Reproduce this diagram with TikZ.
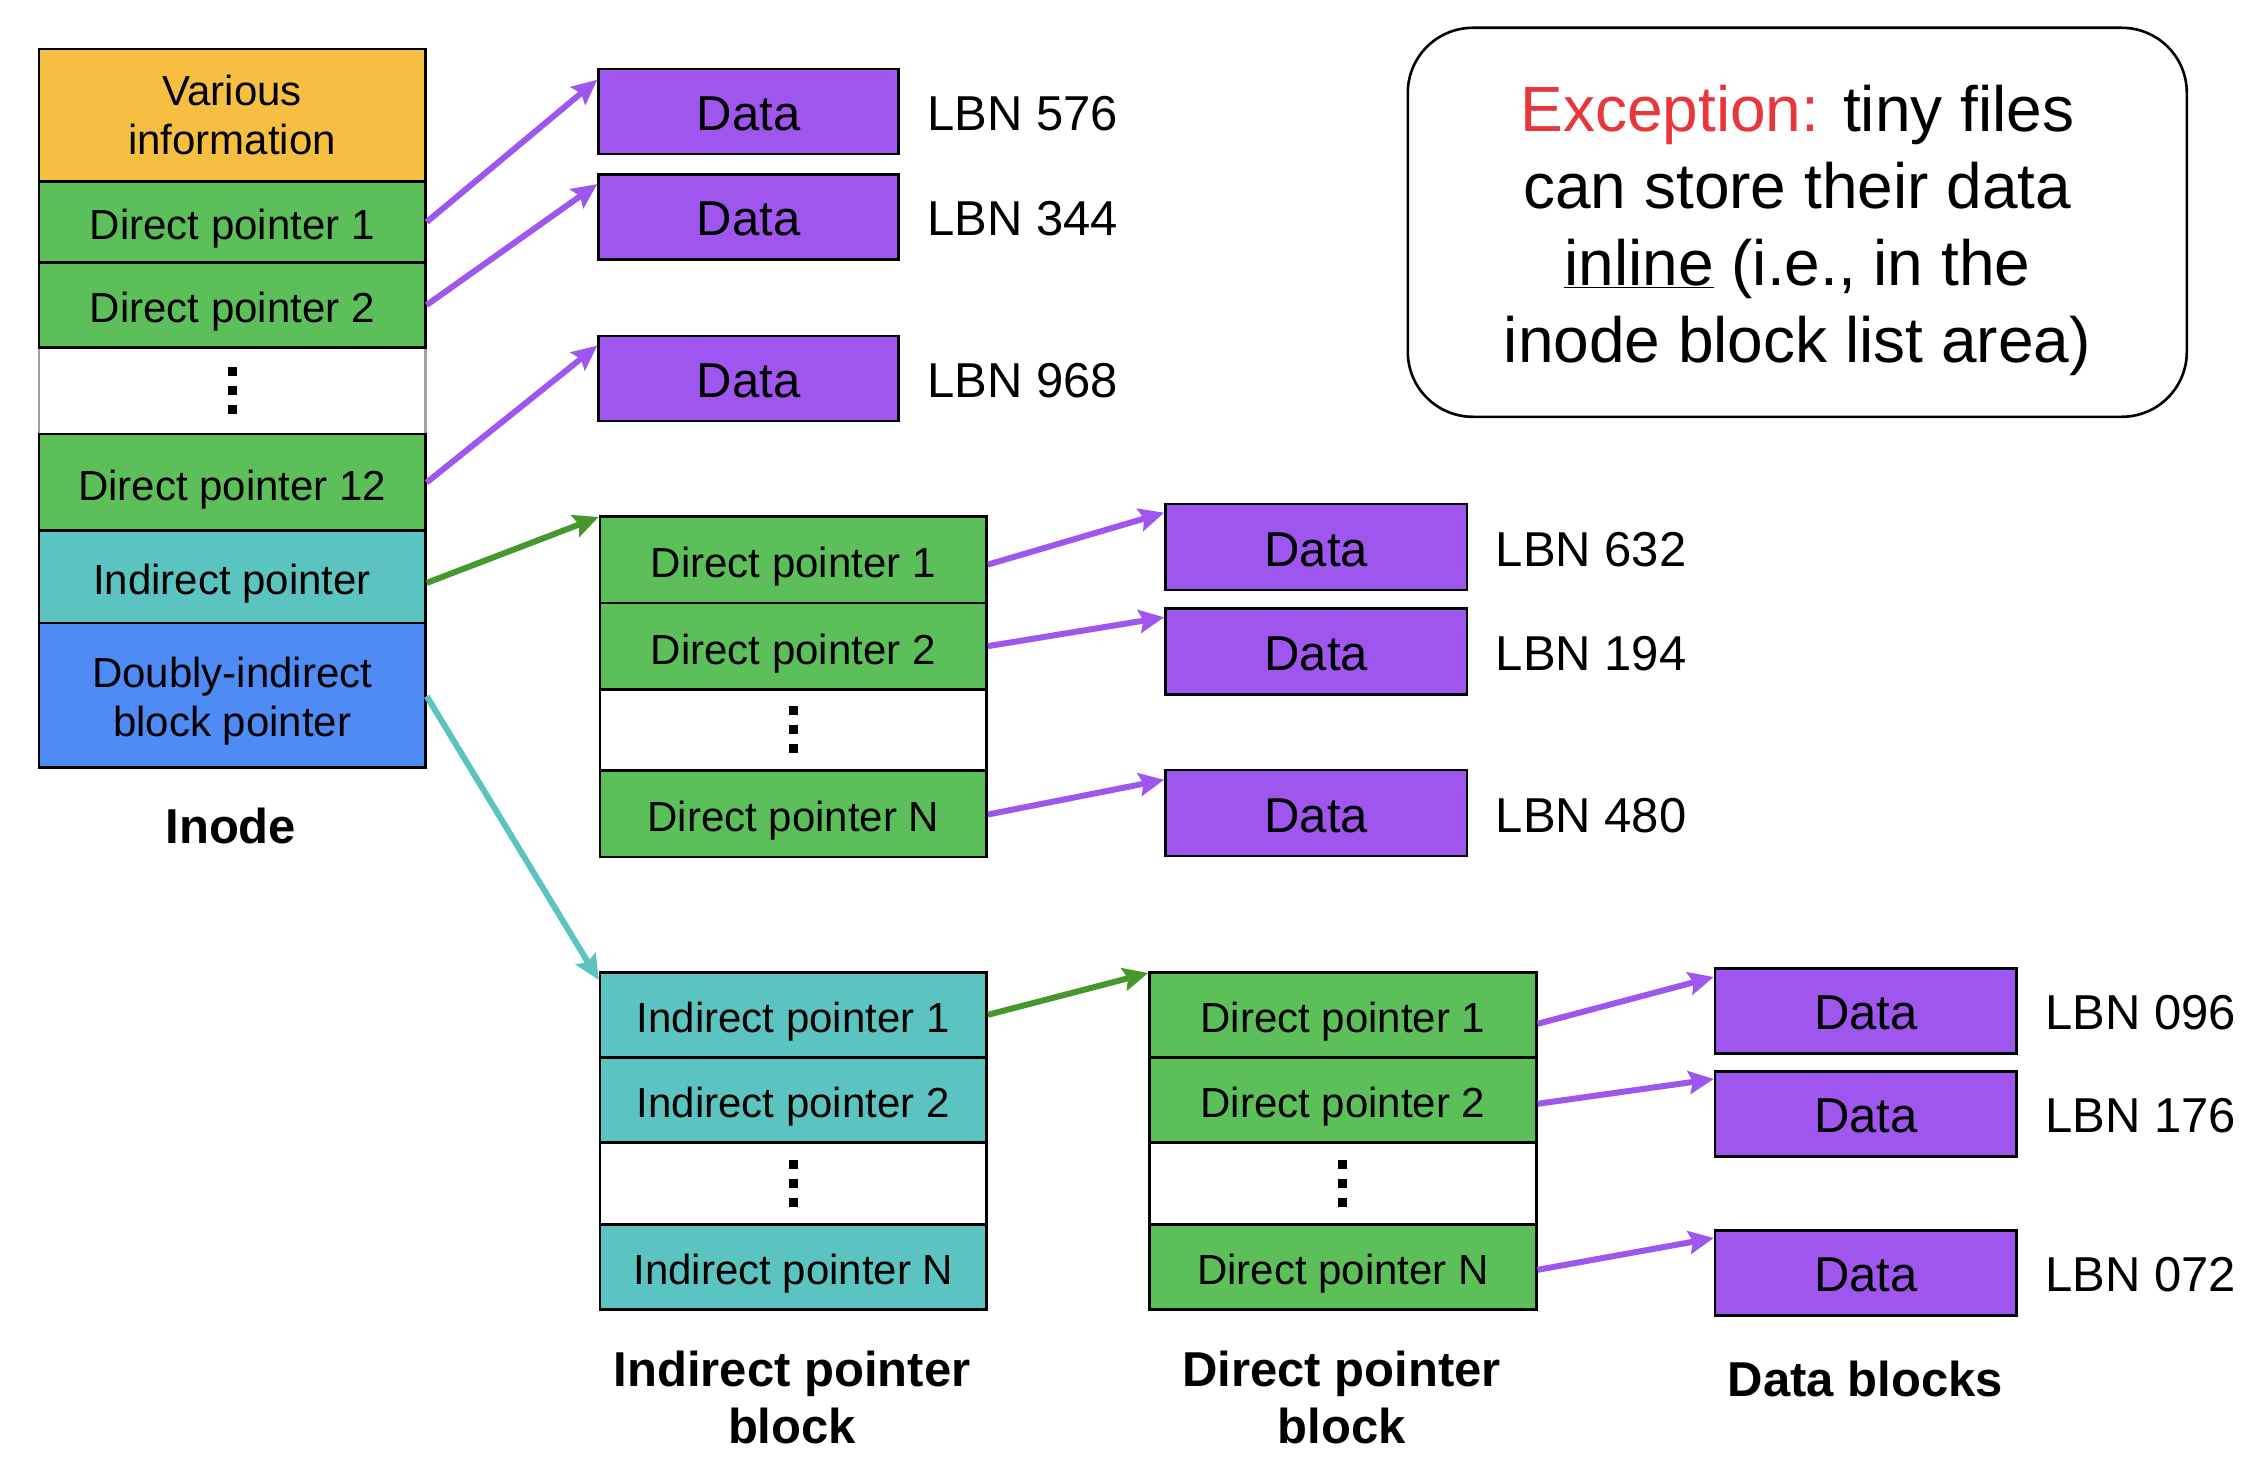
\documentclass[tikz,border=0pt]{standalone}
\usepackage{fontspec}
\setmainfont{Liberation Sans}
\usetikzlibrary{arrows.meta,calc}
\definecolor{cOrange}{HTML}{F6BF41}
\definecolor{cGreen}{HTML}{5CBF5A}
\definecolor{cTeal}{HTML}{5BC4C0}
\definecolor{cBlue}{HTML}{4E8BF5}
\definecolor{cPurple}{HTML}{9E56EE}
\definecolor{cDGreen}{HTML}{45982B}
\definecolor{cRed}{HTML}{E8363B}
\definecolor{cGray}{HTML}{A0A0A0}
\tikzset{
  cell/.style={draw=black, line width=2.6pt, inner sep=0pt, anchor=north west,
    font=\fontsize{42}{49}\selectfont, align=center},
  celltext/.style={inner sep=0pt, font=\fontsize{42}{49}\selectfont, align=center},
  one/.style={text height=36pt, text depth=0pt},
  datab/.style={draw=black, line width=2.6pt, fill=cPurple, inner sep=0pt, anchor=north west,
    font=\fontsize{49}{58}\selectfont, text height=38pt, text depth=0pt},
  lbn/.style={anchor=west, inner sep=0pt, font=\fontsize{49}{58}\selectfont,
    text height=38pt, text depth=0pt},
  caption/.style={inner sep=0pt, align=center, font=\fontsize{49}{57}\selectfont\bfseries},
  arr/.style={line width=6pt, -{Stealth[length=25pt,width=23pt,inset=4pt]}},
  dotsq/.style={fill=black},
}
\begin{document}
\begin{tikzpicture}[x=1pt,y=-1pt]
\useasboundingbox (0,0) rectangle (2262,1474);

% ---------------- Inode ----------------
\node[cell, fill=cOrange, minimum width=386.6pt, minimum height=132.7pt] (vi) at (37.5,47.6) {Various\\information};
\node[cell, fill=cGreen, one, minimum width=386.6pt, minimum height=80.8pt] (idp1) at (37.5,180.3) {Direct pointer 1};
\node[cell, draw=cGray, fill=white, minimum width=386.6pt, minimum height=86.6pt] (idots) at (37.5,346.2) {};
\node[cell, fill=cGreen, one, minimum width=386.6pt, minimum height=85.1pt] (idp2) at (37.5,261.1) {Direct pointer 2};
\node[cell, fill=cGreen, one, minimum width=386.6pt, minimum height=96.6pt] (idp12) at (37.5,432.8) {Direct pointer 12};
\node[cell, fill=cTeal, one, minimum width=386.6pt, minimum height=92.4pt] (iip) at (37.5,529.4) {Indirect pointer};
\node[cell, fill=cBlue, minimum width=386.6pt, minimum height=144.2pt] (idip) at (37.5,621.8) {};
\node[celltext] (idiptext) at ($(idip.center)+(0,6)$) {Doubly-indirect\\block pointer};
\node[caption, anchor=base] (inodelbl) at (230.8,843) {Inode};

% ---------------- Data col 1 ----------------
\node[datab, minimum width=300.1pt, minimum height=85pt] (d1) at (597.2,67.8) {Data};
\node[datab, minimum width=300.1pt, minimum height=85pt] (d2) at (597.2,173.1) {Data};
\node[datab, minimum width=300.1pt, minimum height=85pt] (d3) at (597.2,334.7) {Data};
\node[lbn] (l1) at ($(d1.east)+(27.4,0)$) {LBN 576};
\node[lbn] (l2) at ($(d2.east)+(27.4,0)$) {LBN 344};
\node[lbn] (l3) at ($(d3.east)+(27.4,0)$) {LBN 968};

% ---------------- Direct pointer block (single indirect) ----------------
\node[cell, fill=cGreen, one, minimum width=386.6pt, minimum height=86.6pt] (a1) at (598.7,515) {Direct pointer 1};
\node[cell, fill=cGreen, one, minimum width=386.6pt, minimum height=86.5pt] (a2) at (598.7,601.6) {Direct pointer 2};
\node[cell, fill=white, minimum width=386.6pt, minimum height=80.8pt] (adots) at (598.7,688.1) {};
\node[cell, fill=cGreen, one, minimum width=386.6pt, minimum height=86.6pt] (an) at (598.7,768.9) {Direct pointer N};

% ---------------- Data col 2 ----------------
\node[datab, minimum width=301.5pt, minimum height=86pt] (e1) at (1164.2,502.7) {Data};
\node[datab, minimum width=301.5pt, minimum height=86pt] (e2) at (1164.2,607.3) {Data};
\node[datab, minimum width=301.5pt, minimum height=86pt] (e3) at (1164.2,768.7) {Data};
\node[lbn] (m1) at ($(e1.east)+(27.3,0)$) {LBN 632};
\node[lbn] (m2) at ($(e2.east)+(27.3,0)$) {LBN 194};
\node[lbn] (m3) at ($(e3.east)+(27.3,0)$) {LBN 480};

% ---------------- Indirect pointer block ----------------
\node[cell, fill=cTeal, one, minimum width=386.6pt, minimum height=85pt] (b1) at (598.7,971) {Indirect pointer 1};
\node[cell, fill=cTeal, one, minimum width=386.6pt, minimum height=85pt] (b2) at (598.7,1056) {Indirect pointer 2};
\node[cell, fill=white, minimum width=386.6pt, minimum height=82pt] (bdots) at (598.7,1141) {};
\node[cell, fill=cTeal, one, minimum width=386.6pt, minimum height=85pt] (bn) at (598.7,1223) {Indirect pointer N};
\node[caption] (blbl) at (792,1397) {Indirect pointer\\block};

% ---------------- Direct pointer block (double indirect) ----------------
\node[cell, fill=cGreen, one, minimum width=386.7pt, minimum height=85pt] (c1) at (1148.3,971) {Direct pointer 1};
\node[cell, fill=cGreen, one, minimum width=386.7pt, minimum height=85pt] (c2) at (1148.3,1056) {Direct pointer 2};
\node[cell, fill=white, minimum width=386.7pt, minimum height=82pt] (cdots) at (1148.3,1141) {};
\node[cell, fill=cGreen, one, minimum width=386.7pt, minimum height=85pt] (cn) at (1148.3,1223) {Direct pointer N};
\node[caption] (clbl) at (1341.6,1397) {Direct pointer\\block};

% ---------------- Data col 3 ----------------
\node[datab, minimum width=301.5pt, minimum height=85pt] (f1) at (1713.8,967) {Data};
\node[datab, minimum width=301.5pt, minimum height=85pt] (f2) at (1713.8,1070) {Data};
\node[datab, minimum width=301.5pt, minimum height=85pt] (f3) at (1713.8,1229) {Data};
\node[lbn] (n1) at ($(f1.east)+(27.4,0)$) {LBN 096};
\node[lbn] (n2) at ($(f2.east)+(27.4,0)$) {LBN 176};
\node[lbn] (n3) at ($(f3.east)+(27.4,0)$) {LBN 072};
\node[caption, anchor=base] (flbl) at (1865.3,1396) {Data blocks};

% ---------------- vertical dots ----------------
\foreach \n in {idots,adots,bdots,cdots}{
  \foreach \d in {-19,0,19}{
    \fill[dotsq] ($(\n.center)+(-4.5,\d-4.5)$) rectangle ($(\n.center)+(4.5,\d+4.5)$);
  }
}

% ---------------- Exception box ----------------
\node[draw=black, line width=2.6pt, rounded corners=65pt, minimum width=779pt, minimum height=389pt,
  anchor=north west, inner sep=0pt] (exc) at (1406.5,26.5) {};
\node[inner sep=0pt, align=center, font=\fontsize{64}{77}\selectfont] (exctext) at ($(exc.center)+(0,8)$)
  {\textcolor{cRed}{Exception:} tiny files\\can store their data\\\underline{inline} (i.e., in the\\inode block list area)};

% ---------------- Arrows ----------------
\draw[arr, cPurple] (idp1.east) -- ($(d1.north west)+(0,12)$);
\draw[arr, cPurple] (idp2.east) -- ($(d2.north west)+(0,11)$);
\draw[arr, cPurple] (idp12.east) -- ($(d3.north west)+(0,11)$);
\draw[arr, cDGreen] ($(iip.east)+(0,6)$) -- ($(a1.north west)+(0,2)$);
\draw[arr, cTeal] ($(idip.east)+(0,1)$) -- ($(b1.north west)+(0,9)$);
\draw[arr, cPurple] ($(a1.east)+(0,5)$) -- ($(e1.north west)+(0,10)$);
\draw[arr, cPurple] (a2.east) -- ($(e2.north west)+(0,10)$);
\draw[arr, cPurple] ($(an.east)+(0,1)$) -- ($(e3.north west)+(0,11)$);
\draw[arr, cDGreen] (b1.east) -- ($(c1.north west)+(0,2)$);
\draw[arr, cPurple] ($(c1.east)+(0,9)$) -- ($(f1.north west)+(0,10)$);
\draw[arr, cPurple] ($(c2.east)+(0,4)$) -- ($(f2.north west)+(0,9)$);
\draw[arr, cPurple] ($(cn.east)+(0,3)$) -- ($(f3.north west)+(0,9)$);
\end{tikzpicture}
\end{document}
